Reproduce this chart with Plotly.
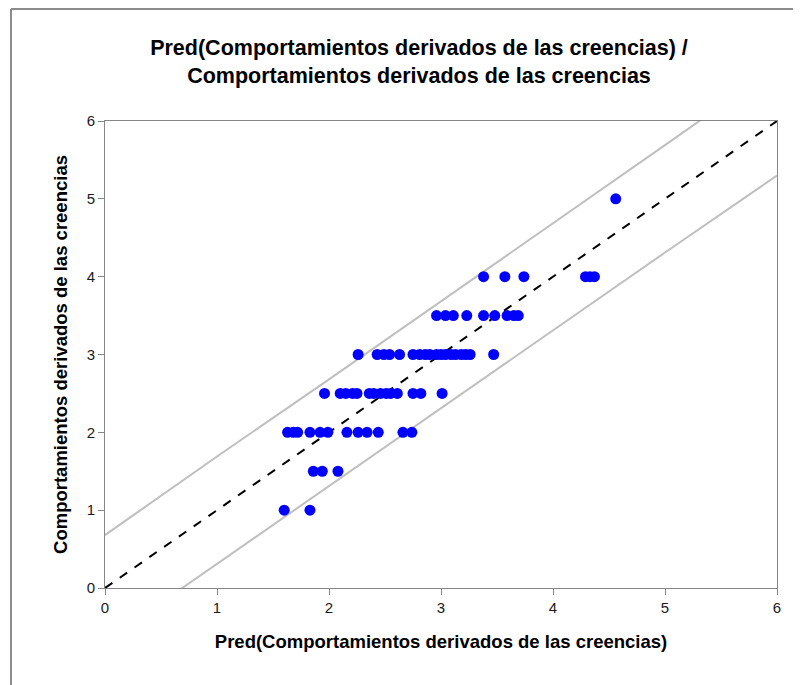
import plotly.graph_objects as go

pred_vals = [
    1.60, 1.83,
    1.86, 1.94, 2.08,
    1.63, 1.68, 1.72, 1.83, 1.92, 1.99, 2.16, 2.26, 2.34, 2.44, 2.66, 2.74,
    1.96, 2.10, 2.15, 2.21, 2.25, 2.36, 2.40, 2.46, 2.51, 2.55, 2.61, 2.75, 2.82, 3.01,
    2.26, 2.43, 2.49, 2.54, 2.63, 2.75, 2.81, 2.86, 2.90, 2.96, 3.00, 3.04, 3.09, 3.13, 3.18, 3.22, 3.26, 3.47,
    2.96, 3.04, 3.11, 3.23, 3.38, 3.48, 3.59, 3.65, 3.69,
    3.38, 3.57, 3.74, 4.29, 4.33, 4.37,
    4.56,
]
obs_vals = (
    [1.0] * 2 + [1.5] * 3 + [2.0] * 12 + [2.5] * 14 + [3.0] * 18 + [3.5] * 9 + [4.0] * 6 + [5.0]
)

# Identity line and prediction band
diag_x = [0, 6]
diag_y = [0, 6]
band_x = [0, 1, 2, 3, 4, 5, 6]
band_upper = [0.68, 1.69, 2.68, 3.68, 4.68, 5.69, 6.70]
band_lower = [-0.69, 0.31, 1.32, 2.32, 3.32, 4.31, 5.30]

x_ticks = [0, 1, 2, 3, 4, 5, 6]
y_ticks = [0, 1, 2, 3, 4, 5, 6]

title_text = "Pred(Comportamientos derivados de las creencias) /<br>Comportamientos derivados de las creencias"
x_title = "Pred(Comportamientos derivados de las creencias)"
y_title = "Comportamientos derivados de las creencias"

FONT = "Liberation Sans, Arial, sans-serif"

# page body has an 8px margin; figure coordinates are offset accordingly
OFF = 8
L, R, T, B = 105 - OFF, 777 - OFF, 121 - OFF, 588 - OFF
W, H = 801, 685
PW, PH = R - L, B - T

fig = go.Figure()
fig.add_trace(go.Scatter(x=band_x, y=band_upper, mode="lines",
                         line=dict(color="#bfbfbf", width=2), hoverinfo="skip", showlegend=False))
fig.add_trace(go.Scatter(x=band_x, y=band_lower, mode="lines",
                         line=dict(color="#bfbfbf", width=2), hoverinfo="skip", showlegend=False))
fig.add_trace(go.Scatter(x=diag_x, y=diag_y, mode="lines",
                         line=dict(color="black", width=2, dash="dash"), showlegend=False))
fig.add_trace(go.Scatter(x=pred_vals, y=obs_vals, mode="markers",
                         marker=dict(color="#0000ff", size=11), showlegend=False))

axis_common = dict(
    showgrid=False, zeroline=False, showline=True, linecolor="#868686", linewidth=1,
    mirror=True, ticks="outside", ticklen=6, tickcolor="#868686",
    tickfont=dict(family=FONT, size=15, color="#1a1a1a"),
)

bx = (11 - OFF - L) / PW
by = (B - (9 - OFF)) / PH

fig.update_layout(
    width=W, height=H,
    margin=dict(l=L, r=W - R, t=T, b=H - B),
    paper_bgcolor="white", plot_bgcolor="white",
    title=dict(text=title_text, x=(419 - OFF) / W, xanchor="center", y=1 - (55 - OFF) / H, yanchor="middle",
               yref="container", xref="container",
               font=dict(family=FONT, size=21.5, color="#000000", weight="bold")),
    xaxis=dict(range=[0, 6], tickvals=x_ticks, **axis_common,
               title=dict(text=x_title, standoff=20,
                          font=dict(family=FONT, size=18.5, color="#000000", weight="bold"))),
    yaxis=dict(range=[0, 6], tickvals=y_ticks, **axis_common,
               title=dict(text=y_title, standoff=14,
                          font=dict(family=FONT, size=18.5, color="#000000", weight="bold"))),
    shapes=[
        dict(type="line", xref="paper", yref="paper", x0=bx, x1=1.5,
             y0=by, y1=by, line=dict(color="#8c8c8c", width=2)),
        dict(type="line", xref="paper", yref="paper", x0=bx, x1=bx,
             y0=-0.5, y1=by, line=dict(color="#8c8c8c", width=2)),
    ],
)

fig.write_html("out.html")
